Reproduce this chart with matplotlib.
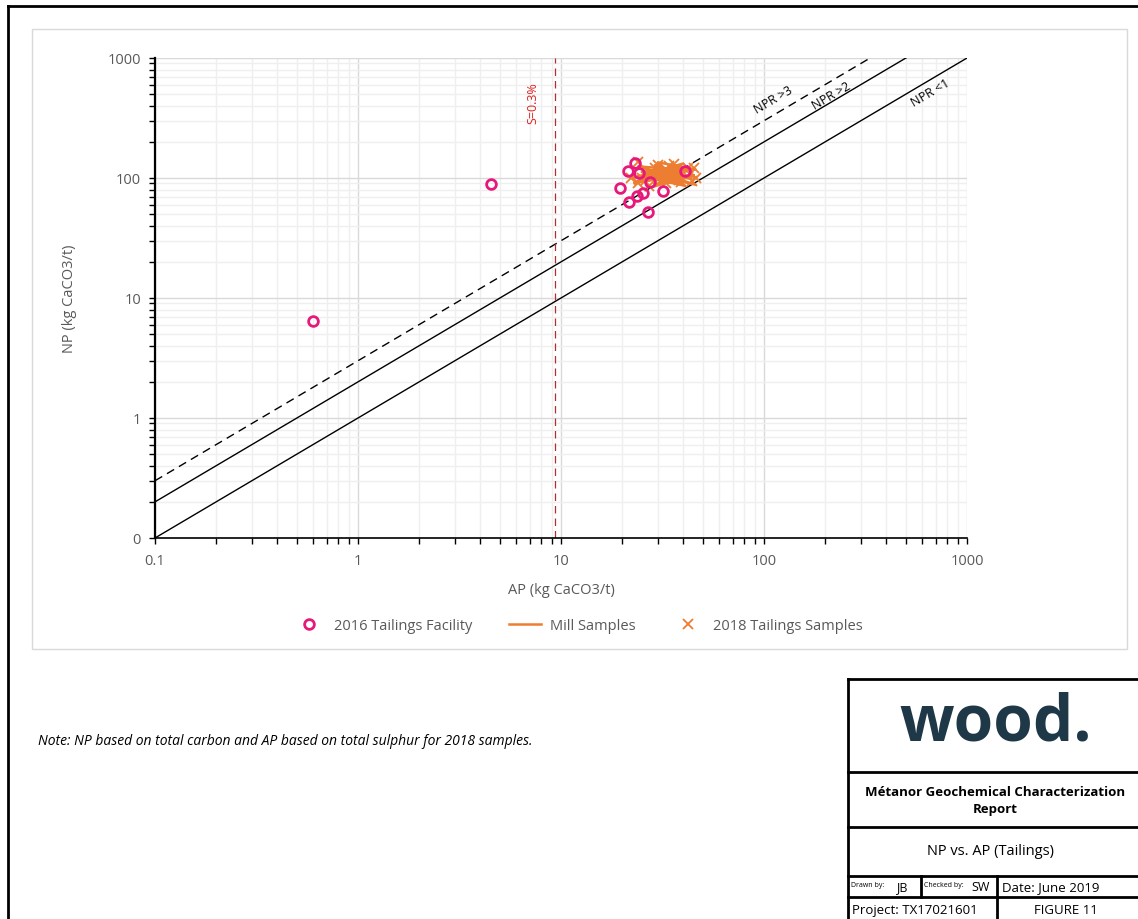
import matplotlib
matplotlib.use("Agg")
import matplotlib.pyplot as plt
from matplotlib.lines import Line2D
from matplotlib.patches import Rectangle
from matplotlib.ticker import FixedLocator, NullFormatter, FixedFormatter
import numpy as np

plt.rcParams['font.family'] = ['Open Sans', 'DejaVu Sans']

# 2016 Tailings Facility (AP, NP)
tf2016_ap = [0.60, 4.52, 23.2, 21.4, 24.2, 19.5, 27.4, 31.8, 25.3, 23.7, 21.6, 26.8, 40.8]
tf2016_np = [6.4, 89, 133, 114, 110, 82.5, 92.6, 78, 75, 70.8, 63, 52, 114]

# Mill Samples (AP, NP), joined in sample order
mill_ap = [22, 44, 24, 46, 26, 40, 23, 45, 28, 42, 25, 38, 30, 46, 24, 41, 27, 44, 29, 36, 23, 43, 26, 39, 31, 45]
mill_np = [100, 115, 125, 88, 108, 132, 92, 106, 84, 124, 112, 95, 135, 118, 104, 86, 116, 98, 128, 108, 90, 122, 102, 112, 94, 104]

# 2018 Tailings Samples (AP, NP)
ts2018_ap = [24, 26, 28, 30, 32, 35, 36, 38, 40, 42, 44, 33, 29, 25, 27, 31, 34, 22, 37, 43, 39, 30, 26, 45, 46, 24]
ts2018_np = [135, 112, 105, 98, 115, 108, 132, 96, 112, 122, 95, 90, 120, 100, 86, 103, 125, 100, 114, 108, 92, 128, 95, 120, 100, 90]

# NPR reference lines
npr_x = [0.1, 1000]
npr_ratios = [1, 2, 3]
sulphur_ap = 9.375  # AP at S = 0.3%

axis_ticks = [0.1, 1, 10, 100, 1000]
x_ticklabels = ['0.1', '1', '10', '100', '1000']
y_ticklabels = ['0', '1', '10', '100', '1000']

W, H = 1138, 920
fig = plt.figure(figsize=(W / 100, H / 100), dpi=100)

def fx(px):
    return px / W

def fy(py):
    return 1 - py / H

# outer frame and chart area
fig.add_artist(Line2D([fx(8), fx(8)], [fy(7), 0], color='black', lw=2, transform=fig.transFigure))
fig.add_artist(Line2D([fx(8), 1], [fy(7), fy(7)], color='black', lw=2, transform=fig.transFigure))
fig.add_artist(Rectangle((fx(32), fy(650)), fx(1127 - 32), (650 - 30) / H, fill=False,
                         edgecolor='#d9d9d9', lw=1, transform=fig.transFigure))

ax = fig.add_axes([fx(155), fy(539), fx(967 - 155), (539 - 59) / H])
ax.set_xscale('log')
ax.set_yscale('log')
ax.set_xlim(0.1, 1000)
ax.set_ylim(0.1, 1000)

minor = [m * 10.0 ** e for e in range(-1, 3) for m in range(2, 10)]
for axis, labels in ((ax.xaxis, x_ticklabels), (ax.yaxis, y_ticklabels)):
    axis.set_major_locator(FixedLocator(axis_ticks))
    axis.set_major_formatter(FixedFormatter(labels))
    axis.set_minor_locator(FixedLocator(minor))
    axis.set_minor_formatter(NullFormatter())

ax.grid(which='major', color='#d9d9d9', lw=1)
ax.grid(which='minor', color='#efefef', lw=1)
ax.set_axisbelow(True)
for s in ('top', 'right'):
    ax.spines[s].set_visible(False)
ax.spines['left'].set_linewidth(1.6)
ax.spines['bottom'].set_linewidth(1.2)
ax.tick_params(which='both', direction='out', colors='black', labelcolor='#595959',
               labelsize=10.5, length=4, width=1)
ax.tick_params(axis='x', pad=7)
ax.tick_params(axis='y', pad=6)

ax.set_xlabel('AP (kg CaCO3/t)', color='#595959', fontsize=10.5, labelpad=10)
ax.set_ylabel('NP (kg CaCO3/t)', color='#595959', fontsize=10.5, labelpad=22)

# NPR lines
for r in npr_ratios:
    ys = [x * r for x in npr_x]
    ls = (0, (6, 4)) if r == 3 else '-'
    ax.plot(npr_x, ys, color='black', lw=1, ls=ls, zorder=2, clip_on=True)

ax.axvline(sulphur_ap, color='#b03030', lw=0.9, ls=(0, (6, 4)), zorder=2)
ax.text(7.25, 430, 'S=0.3%', color='#e02020', fontsize=9, rotation=90, ha='center', va='center')

angle = np.degrees(np.arctan(120 / 203))
ax.text(111, 455, 'NPR >3', fontsize=9, rotation=angle, ha='center', va='center', color='black')
ax.text(214, 492, 'NPR >2', fontsize=9, rotation=angle, ha='center', va='center', color='black')
ax.text(658, 521, 'NPR <1', fontsize=9, rotation=angle, ha='center', va='center', color='black')

# data series
ax.plot(mill_ap, mill_np, color='#ed7d31', lw=1.8, zorder=3, label='Mill Samples')
ax.plot(ts2018_ap, ts2018_np, ls='none', marker='x', ms=7, mew=1.3, color='#ed7d31', zorder=4,
        label='2018 Tailings Samples')
ax.plot(tf2016_ap, tf2016_np, ls='none', marker='o', ms=7, mew=2, mfc='none', mec='#e6197a', zorder=5,
        label='2016 Tailings Facility')

h, l = ax.get_legend_handles_labels()
order = [2, 0, 1]
leg = fig.legend([h[i] for i in order], [l[i] for i in order], loc='center',
                 bbox_to_anchor=(fx(578), fy(627)), ncol=3, frameon=False, fontsize=10.5,
                 handlelength=2.2, columnspacing=2.5, handletextpad=0.6)
for t in leg.get_texts():
    t.set_color('#595959')

# note
fig.text(fx(38), fy(742), 'Note: NP based on total carbon and AP based on total sulphur for 2018 samples.',
         fontsize=10, style='italic', va='center', ha='left', color='black')

# title block
def hline(x0, x1, y):
    fig.add_artist(Line2D([fx(x0), fx(x1)], [fy(y), fy(y)], color='black', lw=2, transform=fig.transFigure))

def vline(x, y0, y1):
    fig.add_artist(Line2D([fx(x), fx(x)], [fy(y0), fy(y1)], color='black', lw=2, transform=fig.transFigure))

vline(848, 680, 920)
for y in (680, 773, 828, 877, 898):
    hline(848, 1138, y)
vline(921, 877, 898)
vline(997, 877, 920)

fig.text(fx(996), fy(724), 'wood.', fontsize=46, color='#1f3847', ha='center', va='center',
         family=['Open Sans', 'DejaVu Sans'], weight='bold')
fig.text(fx(995), fy(801), 'Métanor Geochemical Characterization\nReport', fontsize=9.5, weight='bold',
         ha='center', va='center', linespacing=1.4)
fig.text(fx(990), fy(852), 'NP vs. AP (Tailings)', fontsize=10.5, ha='center', va='center')
fig.text(fx(851), fy(886), 'Drawn by:', fontsize=5, ha='left', va='center')
fig.text(fx(902), fy(888), 'JB', fontsize=9, ha='center', va='center')
fig.text(fx(924), fy(886), 'Checked by:', fontsize=5, ha='left', va='center')
fig.text(fx(981), fy(888), 'SW', fontsize=9, ha='center', va='center')
fig.text(fx(1002), fy(888), 'Date: June 2019', fontsize=9.5, ha='left', va='center')
fig.text(fx(852), fy(911), 'Project: TX17021601', fontsize=9.5, ha='left', va='center')
fig.text(fx(1066), fy(911), 'FIGURE 11', fontsize=9.5, ha='center', va='center')

fig.savefig('out.png', dpi=100)
